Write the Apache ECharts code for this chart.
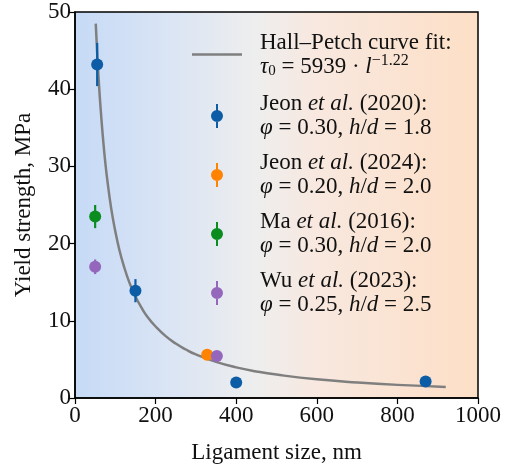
<!DOCTYPE html>
<html><head><meta charset="utf-8">
<script src="https://cdn.jsdelivr.net/npm/echarts@6/dist/echarts.min.js"></script>
<style>html,body{margin:0;padding:0;background:#fff}#c{width:512px;height:469px}</style>
</head><body><div id="c"></div>
<script>
// Data
const xTicks = [0, 200, 400, 600, 800, 1000];
const yTicks = [0, 10, 20, 30, 40, 50];
// Hall–Petch fit curve
const fitX = [51.5, 55, 60, 65, 70, 75, 80, 90, 100, 110, 120, 135, 150, 165, 180, 200, 225, 250, 275, 300, 350, 400, 450, 500, 600, 700, 800, 920];
const fitY = [48.5, 44.7, 40.2, 36.5, 33.3, 30.6, 28.3, 24.5, 21.6, 19.2, 17.3, 14.95, 13.15, 11.7, 10.5, 9.26, 8.01, 7.05, 6.28, 5.64, 4.68, 3.97, 3.44, 3.03, 2.42, 2.01, 1.70, 1.44];
// Jeon et al. (2020)
const jeon20X = [55, 150, 400, 870];
const jeon20Y = [43.2, 13.9, 2.0, 2.15];
const jeon20Err = [2.8, 1.5, 0, 0];
// Jeon et al. (2024)
const jeon24X = [328];
const jeon24Y = [5.6];
const jeon24Err = [0];
// Ma et al. (2016)
const ma16X = [50];
const ma16Y = [23.5];
const ma16Err = [1.5];
// Wu et al. (2023)
const wu23X = [50, 352];
const wu23Y = [17.0, 5.45];
const wu23Err = [0.95, 0];

const C = {blue:'#0C5DA5', orange:'#FF8200', green:'#0A8C1E', purple:'#9467BD', fit:'#7f7f7f'};
const FONT = '"Liberation Serif","DejaVu Serif",serif';
const FS = 23;

function pairs(xs, ys){ return xs.map((x,i)=>[x, ys[i]]); }
function errData(xs, ys, es){ return xs.map((x,i)=>[x, ys[i], es[i]]); }

function errSeries(xs, ys, es, color){
  return {
    type:'custom', silent:true, z:3,
    data: errData(xs, ys, es),
    renderItem: function(params, api){
      const x = api.value(0), y = api.value(1), e = api.value(2);
      if (!e) return null;
      const p1 = api.coord([x, y - e]);
      const p2 = api.coord([x, y + e]);
      return {type:'line', shape:{x1:p1[0], y1:p1[1], x2:p2[0], y2:p2[1]}, style:{stroke:color, lineWidth:2.2}};
    }
  };
}
function dotSeries(name, xs, ys, color){
  return {type:'scatter', name:name, z:4, symbol:'circle', symbolSize:12,
    itemStyle:{color:color, opacity:1}, data: pairs(xs, ys)};
}

const markerIcon = 'path://M5,0h2v24h-2z M12,12 A6,6 0 1,1 0,12 A6,6 0 1,1 12,12z';
const lineIcon = 'path://M0,0h50v2.5h-50z';

const labels = {
  fit: '{n|Hall–Petch curve fit:}\n{i|τ}{sub|0}{n| = 5939 · }{i|l}{sup|−1.22}',
  j20: '{n|Jeon }{i|et al.}{n| (2020):}\n{i|φ}{n| = 0.30, }{i|h}{n|/}{i|d}{n| = 1.8}',
  j24: '{n|Jeon }{i|et al.}{n| (2024):}\n{i|φ}{n| = 0.20, }{i|h}{n|/}{i|d}{n| = 2.0}',
  ma16: '{n|Ma }{i|et al.}{n| (2016):}\n{i|φ}{n| = 0.30, }{i|h}{n|/}{i|d}{n| = 2.0}',
  wu23: '{n|Wu }{i|et al.}{n| (2023):}\n{i|φ}{n| = 0.25, }{i|h}{n|/}{i|d}{n| = 2.5}'
};

const chart = echarts.init(document.getElementById('c'), null, {renderer:'canvas'});
chart.setOption({
  animation:false,
  backgroundColor:'#fff',
  grid:{left:75, right:34, top:12, bottom:62, show:true, borderColor:'#000', borderWidth:1.5,
    backgroundColor: new echarts.graphic.LinearGradient(0,0,1,0,[
      {offset:0, color:'#c6daf6'},
      {offset:0.2, color:'#d7e3f5'},
      {offset:0.45, color:'#eeeeee'},
      {offset:0.6, color:'#f8e8df'},
      {offset:1, color:'#fddfc6'}
    ])},
  xAxis:{type:'value', min:xTicks[0], max:xTicks[xTicks.length-1], interval:200,
    name:'Ligament size, nm', nameLocation:'middle', nameGap:43,
    nameTextStyle:{fontFamily:FONT, fontSize:FS, color:'#111'},
    axisLine:{show:true, lineStyle:{color:'#000', width:1.5}},
    axisTick:{show:true, length:6, lineStyle:{color:'#000', width:1.2}},
    axisLabel:{fontFamily:FONT, fontSize:FS, color:'#111', margin:6, formatter: v => String(v)},
    splitLine:{show:false}},
  yAxis:{type:'value', min:yTicks[0], max:yTicks[yTicks.length-1], interval:10,
    name:'Yield strength, MPa', nameLocation:'middle', nameGap:40,
    nameTextStyle:{fontFamily:FONT, fontSize:FS, color:'#111'},
    axisLine:{show:true, lineStyle:{color:'#000', width:1.5}},
    axisTick:{show:true, length:6, lineStyle:{color:'#000', width:1.2}},
    axisLabel:{fontFamily:FONT, fontSize:FS, color:'#111', margin:4, formatter: v => String(v)},
    splitLine:{show:false}},
  legend:{
    orient:'vertical', left:192, top:31, padding:0, itemGap:12,
    itemWidth:50, itemHeight:24, selectedMode:false,
    data:[
      {name:'fit', icon:lineIcon, itemStyle:{color:C.fit}},
      {name:'j20', icon:markerIcon},
      {name:'j24', icon:markerIcon},
      {name:'ma16', icon:markerIcon},
      {name:'wu23', icon:markerIcon}
    ],
    formatter: function(name){ return labels[name]; },
    textStyle:{fontFamily:FONT, fontSize:FS, color:'#111', padding:[0,0,0,13],
      rich:{
        n:{fontFamily:FONT, fontSize:FS, lineHeight:24, color:'#111'},
        i:{fontFamily:FONT, fontSize:FS, lineHeight:24, fontStyle:'italic', color:'#111'},
        sub:{fontFamily:FONT, fontSize:15, lineHeight:24, color:'#111', padding:[10,0,0,0]},
        sup:{fontFamily:FONT, fontSize:16, lineHeight:24, color:'#111', padding:[0,0,12,0]}
      }}
  },
  series:[
    {type:'line', name:'fit', data:pairs(fitX, fitY), smooth:true, symbol:'none', z:2,
      lineStyle:{color:C.fit, width:2.5}, itemStyle:{color:C.fit}},
    errSeries(jeon20X, jeon20Y, jeon20Err, C.blue),
    dotSeries('j20', jeon20X, jeon20Y, C.blue),
    errSeries(jeon24X, jeon24Y, jeon24Err, C.orange),
    dotSeries('j24', jeon24X, jeon24Y, C.orange),
    errSeries(ma16X, ma16Y, ma16Err, C.green),
    dotSeries('ma16', ma16X, ma16Y, C.green),
    errSeries(wu23X, wu23Y, wu23Err, C.purple),
    dotSeries('wu23', wu23X, wu23Y, C.purple)
  ]
});
</script></body></html>
